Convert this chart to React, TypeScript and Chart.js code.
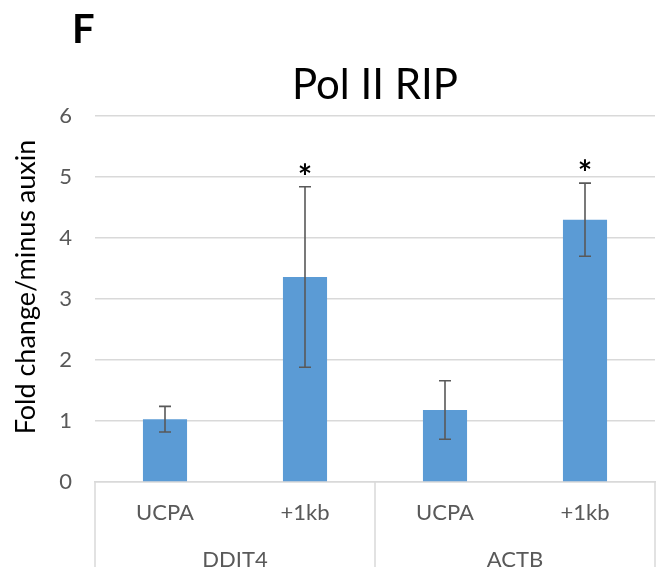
import React, { useEffect, useRef } from "react";
import { Chart, registerables } from "chart.js";

Chart.register(...registerables);

// Pol II RIP: fold change relative to minus-auxin, per gene and amplicon
const genes = ["DDIT4", "ACTB"];
const sites = ["UCPA", "+1kb"];
const foldChange = [1.03, 3.36, 1.18, 4.3];
const errorBars = [0.21, 1.48, 0.48, 0.6];
const significant = [false, true, false, true];
const yTicks = [0, 1, 2, 3, 4, 5, 6];

const categoryLabels = genes.flatMap(() => sites);

const FONT = "Lato, 'Open Sans', sans-serif";
const TEXT_GRAY = "#595959";
const GRID_GRAY = "#D9D9D9";
const BAR_BLUE = "#5B9BD5";

// draws text so that its visible glyphs are centred on (x, y)
function fillCentered(ctx: CanvasRenderingContext2D, text: string, x: number, y: number) {
  ctx.textAlign = "center";
  ctx.textBaseline = "alphabetic";
  const m = ctx.measureText(text);
  const asc = m.actualBoundingBoxAscent;
  const desc = m.actualBoundingBoxDescent;
  ctx.fillText(text, x, y + (asc - desc) / 2);
}

const overlayPlugin = {
  id: "overlay",
  afterDatasetsDraw(chart: any) {
    const { ctx, chartArea } = chart;
    const x = chart.scales.x;
    const y = chart.scales.y;
    const ds = chart.data.datasets[0];
    const values: number[] = ds.data;
    const errs: number[] = ds.errorBars;
    const stars: boolean[] = ds.significant;

    ctx.save();
    // error bars
    ctx.strokeStyle = TEXT_GRAY;
    ctx.lineWidth = 1.6;
    values.forEach((v, i) => {
      const cx = x.getPixelForValue(i);
      const top = y.getPixelForValue(v + errs[i]);
      const bot = y.getPixelForValue(v - errs[i]);
      ctx.beginPath();
      ctx.moveTo(cx, top);
      ctx.lineTo(cx, bot);
      ctx.moveTo(cx - 6, top);
      ctx.lineTo(cx + 6, top);
      ctx.moveTo(cx - 6, bot);
      ctx.lineTo(cx + 6, bot);
      ctx.stroke();
      if (stars[i]) {
        ctx.fillStyle = "#000";
        ctx.font = `bold 34px ${FONT}`;
        fillCentered(ctx, "*", cx, top - 18);
      }
    });

    // group separators and gene labels below the axis
    const half = (x.getPixelForValue(1) - x.getPixelForValue(0)) / 2;
    ctx.strokeStyle = GRID_GRAY;
    ctx.lineWidth = 1.5;
    const n = categoryLabels.length;
    for (let i = 0; i <= n; i += sites.length) {
      const px = i < n ? x.getPixelForValue(i) - half : x.getPixelForValue(n - 1) + half;
      ctx.beginPath();
      ctx.moveTo(px, chartArea.bottom);
      ctx.lineTo(px, chart.height);
      ctx.stroke();
    }
    ctx.fillStyle = TEXT_GRAY;
    ctx.font = `22px ${FONT}`;
    genes.forEach((g, gi) => {
      const a = x.getPixelForValue(gi * sites.length);
      const b = x.getPixelForValue(gi * sites.length + sites.length - 1);
      ctx.textAlign = "center";
      ctx.textBaseline = "alphabetic";
      ctx.fillText(g, (a + b) / 2, chartArea.bottom + 85);
    });

    // panel letter, title, y-axis title
    ctx.fillStyle = "#000";
    ctx.textAlign = "left";
    ctx.textBaseline = "alphabetic";
    ctx.font = `bold 40px ${FONT}`;
    ctx.fillText("F", 72, 43);

    ctx.textAlign = "center";
    ctx.font = `42px ${FONT}`;
    ctx.fillText("Pol II RIP", (chartArea.left + chartArea.right) / 2, 99);

    ctx.translate(27, (chartArea.top + chartArea.bottom) / 2 - 12);
    ctx.rotate(-Math.PI / 2);
    ctx.font = `27px ${FONT}`;
    fillCentered(ctx, "Fold change/minus auxin", 0, 0);
    ctx.restore();
  },
};

export default function App() {
  const ref = useRef<HTMLCanvasElement>(null);

  useEffect(() => {
    if (!ref.current) return;
    const chart = new Chart(ref.current, {
      type: "bar",
      data: {
        labels: categoryLabels,
        datasets: [
          {
            data: foldChange,
            backgroundColor: BAR_BLUE,
            borderWidth: 0,
            categoryPercentage: 1,
            barPercentage: 0.315,
            errorBars,
            significant,
          } as any,
        ],
      },
      options: {
        animation: false,
        responsive: false,
        layout: { padding: { top: 116, right: 3, left: 0, bottom: 0 } },
        plugins: { legend: { display: false }, tooltip: { enabled: false }, title: { display: false } },
        scales: {
          x: {
            grid: { display: false },
            border: { display: true, color: GRID_GRAY, width: 1.5 },
            ticks: { color: TEXT_GRAY, font: { family: FONT, size: 22 }, padding: 10, maxRotation: 0 },
            afterFit: (s: any) => {
              s.height = 85;
            },
          },
          y: {
            min: 0,
            max: 6,
            afterBuildTicks: (s: any) => {
              s.ticks = yTicks.map((v) => ({ value: v }));
            },
            grid: { color: GRID_GRAY, lineWidth: 1.5, drawTicks: false },
            border: { display: false },
            ticks: { color: TEXT_GRAY, font: { family: FONT, size: 22 }, padding: 23 },
            afterFit: (s: any) => {
              s.width = 95;
            },
          },
        },
      },
      plugins: [overlayPlugin],
    });
    return () => chart.destroy();
  }, []);

  return (
    <div style={{ position: "fixed", left: 0, top: 0, width: 658, height: 567, background: "#fff" }}>
      <canvas ref={ref} width={658} height={567} />
    </div>
  );
}
